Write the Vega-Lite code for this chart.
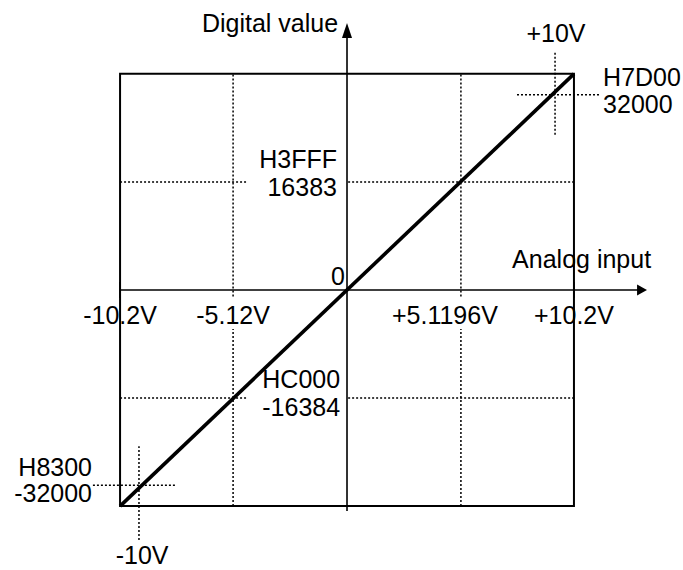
{
  "$schema": "https://vega.github.io/schema/vega-lite/v6.json",
  "width": 683,
  "height": 570,
  "autosize": {"type": "fit", "contains": "padding"},
  "padding": 0,
  "background": "white",
  "config": {"view": {"stroke": null}},
  "datasets": {
    "box": [{"x": -10.2, "x2": 10.2, "y": -32768, "y2": 32768}],
    "axes": [
      {"x": -10.2, "x2": 13.1, "y": 0, "y2": 0},
      {"x": 0, "x2": 0, "y": -33500, "y2": 38300},
      {"x": -10.2, "x2": -10.2, "y": -1200, "y2": 1200},
      {"x": 10.2, "x2": 10.2, "y": -1200, "y2": 1200}
    ],
    "dotted": [
      {"x": -5.12, "x2": -5.12, "y": -984, "y2": 32768},
      {"x": -5.12, "x2": -5.12, "y": -32768, "y2": -5900},
      {"x": 5.1196, "x2": 5.1196, "y": -984, "y2": 32768},
      {"x": 5.1196, "x2": 5.1196, "y": -32768, "y2": -5900},
      {"x": -10.2, "x2": -4.45, "y": 16383, "y2": 16383},
      {"x": 0.05, "x2": 10.2, "y": 16383, "y2": 16383},
      {"x": -10.2, "x2": -4.45, "y": -16384, "y2": -16384},
      {"x": 0.05, "x2": 10.2, "y": -16384, "y2": -16384},
      {"x": 9.35, "x2": 9.35, "y": 23536, "y2": 36098},
      {"x": 7.64, "x2": 11.37, "y": 29590, "y2": 29590},
      {"x": -9.35, "x2": -9.35, "y": -37915, "y2": -23687},
      {"x": -11.42, "x2": -7.69, "y": -29590, "y2": -29590}
    ],
    "diagonal": [{"x": -10.2, "y": -32768}, {"x": 10.2, "y": 32768}],
    "arrowX": [{"x": 13.26, "y": 0}],
    "arrowY": [{"x": 0, "y": 39352}],
    "labelsLeft": [
      {"x": -6.52, "y": 39125, "label": "Digital value"},
      {"x": 7.42, "y": 3405, "label": "Analog input"},
      {"x": 11.51, "y": 30951, "label": "H7D00"},
      {"x": 11.51, "y": 26865, "label": "32000"}
    ],
    "labelsCenter": [
      {"x": 9.39, "y": 37611, "label": "+10V"},
      {"x": -10.2, "y": -5222, "label": "-10.2V"},
      {"x": -5.12, "y": -5222, "label": "-5.12V"},
      {"x": 4.4, "y": -5222, "label": "+5.1196V"},
      {"x": 10.2, "y": -5222, "label": "+10.2V"},
      {"x": -9.21, "y": -41547, "label": "-10V"}
    ],
    "labelsRight": [
      {"x": -0.45, "y": 18541, "label": "H3FFF"},
      {"x": -0.45, "y": 14303, "label": "16383"},
      {"x": -0.31, "y": -14907, "label": "HC000"},
      {"x": -0.31, "y": -19146, "label": "-16384"},
      {"x": -0.09, "y": 681, "label": "0"},
      {"x": -11.46, "y": -28228, "label": "H8300"},
      {"x": -11.46, "y": -32163, "label": "-32000"}
    ]
  },
  "layer": [
    {
      "data": {"name": "box"},
      "mark": {"type": "rect", "fill": null, "stroke": "black", "strokeWidth": 2},
      "encoding": {
        "x": {"field": "x", "type": "quantitative", "scale": {"domain": [-15.596, 15.101], "nice": false, "zero": false}, "axis": null},
        "x2": {"field": "x2"},
        "y": {"field": "y", "type": "quantitative", "scale": {"domain": [-42303, 43968], "nice": false, "zero": false}, "axis": null},
        "y2": {"field": "y2"}
      }
    },
    {
      "data": {"name": "dotted"},
      "mark": {"type": "rule", "color": "black", "strokeWidth": 1.5, "strokeDash": [2, 2]},
      "encoding": {
        "x": {"field": "x", "type": "quantitative"},
        "x2": {"field": "x2"},
        "y": {"field": "y", "type": "quantitative"},
        "y2": {"field": "y2"}
      }
    },
    {
      "data": {"name": "axes"},
      "mark": {"type": "rule", "color": "black", "strokeWidth": 1.6},
      "encoding": {
        "x": {"field": "x", "type": "quantitative"},
        "x2": {"field": "x2"},
        "y": {"field": "y", "type": "quantitative"},
        "y2": {"field": "y2"}
      }
    },
    {
      "data": {"name": "diagonal"},
      "mark": {"type": "line", "color": "black", "strokeWidth": 3.6},
      "encoding": {
        "x": {"field": "x", "type": "quantitative"},
        "y": {"field": "y", "type": "quantitative"}
      }
    },
    {
      "data": {"name": "arrowX"},
      "mark": {"type": "point", "shape": "M-0.9,-1L0.9,0L-0.9,1Z", "size": 121, "filled": true, "color": "black", "opacity": 1},
      "encoding": {
        "x": {"field": "x", "type": "quantitative"},
        "y": {"field": "y", "type": "quantitative"}
      }
    },
    {
      "data": {"name": "arrowY"},
      "mark": {"type": "point", "shape": "M-0.67,1L0,-1L0.67,1Z", "size": 225, "filled": true, "color": "black", "opacity": 1},
      "encoding": {
        "x": {"field": "x", "type": "quantitative"},
        "y": {"field": "y", "type": "quantitative"}
      }
    },
    {
      "data": {"name": "labelsLeft"},
      "mark": {"type": "text", "align": "left", "baseline": "alphabetic", "font": "Liberation Sans", "fontSize": 25, "color": "black"},
      "encoding": {
        "x": {"field": "x", "type": "quantitative"},
        "y": {"field": "y", "type": "quantitative"},
        "text": {"field": "label"}
      }
    },
    {
      "data": {"name": "labelsCenter"},
      "mark": {"type": "text", "align": "center", "baseline": "alphabetic", "font": "Liberation Sans", "fontSize": 25, "color": "black"},
      "encoding": {
        "x": {"field": "x", "type": "quantitative"},
        "y": {"field": "y", "type": "quantitative"},
        "text": {"field": "label"}
      }
    },
    {
      "data": {"name": "labelsRight"},
      "mark": {"type": "text", "align": "right", "baseline": "alphabetic", "font": "Liberation Sans", "fontSize": 25, "color": "black"},
      "encoding": {
        "x": {"field": "x", "type": "quantitative"},
        "y": {"field": "y", "type": "quantitative"},
        "text": {"field": "label"}
      }
    }
  ]
}
